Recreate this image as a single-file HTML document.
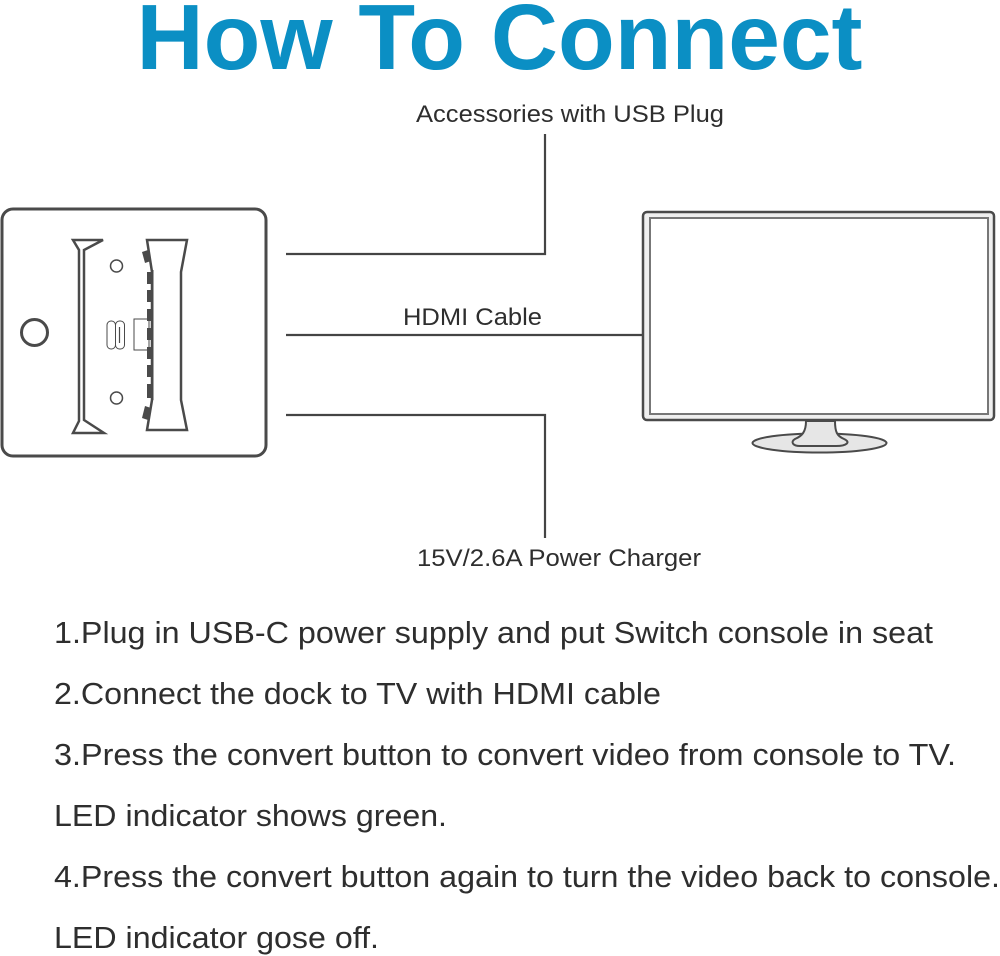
<!DOCTYPE html>
<html><head><meta charset="utf-8">
<style>
html,body{margin:0;padding:0;background:#fff}
#p{position:relative;width:1000px;height:956px;overflow:hidden;background:#fff}
svg{position:absolute;left:0;top:0}
text{font-family:"Liberation Sans",sans-serif;fill:#2e2e2e}
</style></head><body><div id="p">
<svg width="1000" height="956" viewBox="0 0 1000 956">
<text x="136.500" y="69" textLength="726" lengthAdjust="spacingAndGlyphs" style="font-size:93px;font-weight:bold;fill:#0b8fc4">How To Connect</text>
<text x="416" y="122" textLength="308" lengthAdjust="spacingAndGlyphs" style="font-size:24px">Accessories with USB Plug</text>
<text x="403" y="325" textLength="139" lengthAdjust="spacingAndGlyphs" style="font-size:24px">HDMI Cable</text>
<text x="417" y="566" textLength="284" lengthAdjust="spacingAndGlyphs" style="font-size:24px">15V/2.6A Power Charger</text>

<g fill="none" stroke="#444" stroke-width="2.2">
<path d="M286 254H545V134"/>
<path d="M286 335H642"/>
<path d="M286 415H545V538"/>
</g>

<g stroke="#4a4a4a" fill="#fff">
<rect x="2" y="209" width="264" height="247" rx="11" stroke-width="3"/>
<circle cx="34.500" cy="332.500" r="13" stroke-width="3"/>
<path d="M73 240H103L84 250V420L104 433H73L79 421V250Z" stroke-width="2.500"/>
<circle cx="116.500" cy="266" r="6" stroke-width="1.500"/>
<circle cx="116.500" cy="398" r="6" stroke-width="1.500"/>
<rect x="107" y="321" width="8.500" height="28" rx="4" stroke-width="1"/>
<rect x="115.500" y="321" width="9" height="28" rx="4" stroke-width="1"/>
<path d="M119.500 327V343" stroke-width="1.200"/>
<rect x="134" y="319" width="15" height="31" stroke-width="1"/>
<path d="M147 240H187L181 272V400L187 430H147L152 400V272Z" stroke-width="2.500"/>
</g>
<g fill="#4a4a4a" stroke="none">
<path d="M142 252L148 250L151 261L145 263Z"/>
<path d="M145 406L151 408L148 420L142 418Z"/>
<rect x="147" y="272" width="6" height="12"/>
<rect x="147" y="290" width="6" height="12"/>
<rect x="147" y="309" width="6" height="12"/>
<rect x="147" y="328" width="6" height="12"/>
<rect x="147" y="347" width="6" height="12"/>
<rect x="147" y="365" width="6" height="12"/>
<rect x="147" y="384" width="6" height="14"/>
<rect x="151" y="270" width="2.500" height="130"/>
</g>

<g stroke="#4a4a4a">
<rect x="643" y="212" width="351" height="208" rx="4" fill="#efefef" stroke-width="2.500"/>
<rect x="650" y="218" width="338" height="196" fill="#fff" stroke="#777" stroke-width="2"/>
<ellipse cx="819.500" cy="443" rx="67" ry="9.500" fill="#e6e6e6" stroke-width="2"/>
<path d="M806 421C806 432 802 436 795 439C790 442 793 446 800 446H836C847 446 851 442 844 439C837 436 835 432 835 421Z" fill="#e6e6e6" stroke-width="2"/>
</g>

<g style="font-size:31px">
<text x="54" y="643" textLength="879" lengthAdjust="spacingAndGlyphs">1.Plug in USB-C power supply and put Switch console in seat</text>
<text x="54" y="704" textLength="607" lengthAdjust="spacingAndGlyphs">2.Connect the dock to TV with HDMI cable</text>
<text x="54" y="765" textLength="902" lengthAdjust="spacingAndGlyphs">3.Press the convert button to convert video from console to TV.</text>
<text x="54" y="826" textLength="393" lengthAdjust="spacingAndGlyphs">LED indicator shows green.</text>
<text x="54" y="887" textLength="946" lengthAdjust="spacingAndGlyphs">4.Press the convert button again to turn the video back to console.</text>
<text x="54" y="948" textLength="325" lengthAdjust="spacingAndGlyphs">LED indicator gose off.</text>
</g>
</svg>
</div></body></html>
